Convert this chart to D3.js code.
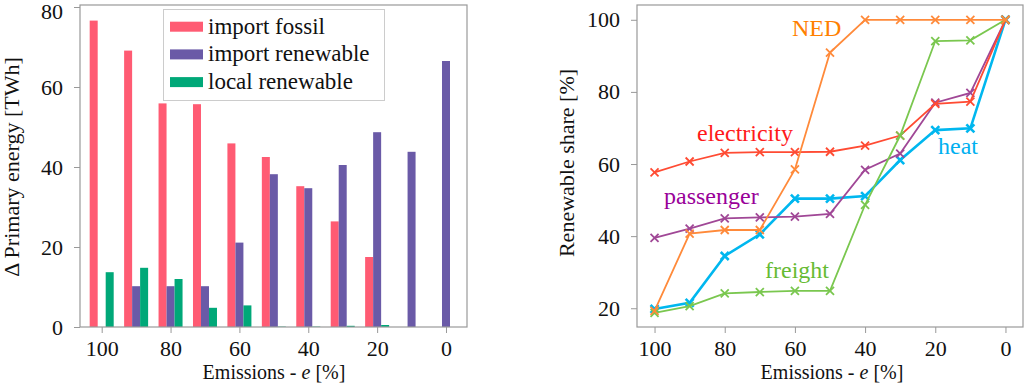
<!DOCTYPE html>
<html>
<head>
<meta charset="utf-8">
<script src="https://cdn.jsdelivr.net/npm/d3@7"></script>
<style>
	body { margin: 0; background: #fff; }
	svg text { font-family: "Liberation Serif", "Tinos", "Nimbus Roman", "Noto Serif", "FreeSerif", "Times New Roman", Times, "DejaVu Serif", serif !important; }
	.axis path { display: none; }
	.axis line { stroke: #999; }
	.axis text { font-size: 22px; fill: #111; }
</style>
</head>
<body>
<div id="chart-area"></div>
<script>
// data
let emissions = [100, 90, 80, 70, 60, 50, 40, 30, 20, 10, 0];

let importFossil    = [76.6, 69.1, 55.9, 55.7, 45.9, 42.5, 35.2, 26.4, 17.5, 0, 0];
let importRenewable = [0, 10.2, 10.2, 10.2, 21.1, 38.2, 34.7, 40.5, 48.7, 43.8, 66.5];
let localRenewable  = [13.7, 14.8, 12.0, 4.8, 5.4, 0.1, 0.1, 0.3, 0.5, 0, 0];
let barNames = ["import fossil", "import renewable", "local renewable"];

let ned         = [19.3, 40.7, 41.7, 41.7, 58.5, 90.9, 100, 100, 100, 100, 100];
let electricity = [57.7, 60.7, 63.1, 63.3, 63.3, 63.4, 65.1, 67.9, 76.7, 77.3, 100];
let heat        = [19.8, 21.5, 34.5, 40.5, 50.4, 50.4, 51.1, 61.1, 69.4, 69.9, 100];
let passenger   = [39.5, 42.1, 44.9, 45.2, 45.4, 46.2, 58.4, 62.9, 77.0, 79.7, 100];
let freight     = [18.7, 20.6, 24.1, 24.5, 24.8, 24.8, 48.7, 67.9, 94.1, 94.3, 100];
let lineNames = ["heat", "passenger", "electricity", "freight", "NED"];

let xTicks     = [100, 80, 60, 40, 20, 0];
let leftTicks  = [0, 20, 40, 60, 80];
let rightTicks = [20, 40, 60, 80, 100];

let serif = "'Liberation Serif', Tinos, 'Nimbus Roman', 'Noto Serif', FreeSerif, 'Times New Roman', Times, 'DejaVu Serif', serif";

// SVG size
let width  = 1024,
	height = 385;

let svg = d3.select("#chart-area")
	.append("svg")
	.attr("width", width)
	.attr("height", height)
	.attr("font-family", serif);

// ---------- left: bar chart ----------
let L = {left: 80, right: 467, top: 5, bottom: 327};

let xLeft = d3.scaleLinear()
	.domain([106.3, -6.1])
	.range([L.left, L.right]);

let yLeft = d3.scaleLinear()
	.domain([0, 80.5])
	.range([L.bottom, L.top]);

let barColor = d3.scaleOrdinal()
	.domain(barNames)
	.range(["#ff5b73", "#6a5aa7", "#00a878"]);

let barData = [importFossil, importRenewable, localRenewable];
let barW = 8;

barData.forEach((series, i) => {
	svg.append("g")
		.selectAll("rect")
		.data(emissions)
		.enter()
		.append("rect")
		.attr("x",      (d, j) => xLeft(d) + (i - 1) * barW - barW / 2)
		.attr("y",      (d, j) => yLeft(series[j]))
		.attr("width",  barW)
		.attr("height", (d, j) => yLeft(0) - yLeft(series[j]))
		.attr("fill",   barColor(barNames[i]));
});

// axes
svg.append("g")
	.attr("class", "axis")
	.attr("transform", "translate(0," + L.bottom + ")")
	.call(d3.axisBottom(xLeft).tickValues(xTicks).tickSize(6).tickPadding(7))
	.attr("font-family", serif);

let leftY = svg.append("g")
	.attr("class", "axis")
	.attr("transform", "translate(" + L.left + ",0)")
	.call(d3.axisLeft(yLeft).tickValues(leftTicks).tickSize(6).tickPadding(11))
	.attr("font-family", serif);

// keep the top label inside the picture
leftY.selectAll("text").filter(d => d === 80).attr("dy", "0.5em");

svg.append("rect")
	.attr("x", L.left)
	.attr("y", L.top)
	.attr("width", L.right - L.left)
	.attr("height", L.bottom - L.top)
	.attr("fill", "none")
	.attr("stroke", "#999")
	.attr("stroke-width", 1.2);

// legend
let legend = svg.append("g");
legend.append("rect")
	.attr("x", 163.5)
	.attr("y", 9.5)
	.attr("width", 221)
	.attr("height", 91)
	.attr("fill", "#fff")
	.attr("stroke", "#ccc");

barNames.forEach((name, i) => {
	let cy = 26.7 + i * 27.7;
	legend.append("rect")
		.attr("x", 170)
		.attr("y", cy - 5)
		.attr("width", 33)
		.attr("height", 10)
		.attr("fill", barColor(name));
	legend.append("text")
		.text(name)
		.attr("x", 208)
		.attr("y", cy + 7)
		.style("font-size", "23px")
		.style("fill", "#111");
});

// axis titles
svg.append("text")
	.text("Δ Primary energy [TWh]")
	.attr("transform", "rotate(-90)")
	.attr("x", -167)
	.attr("y", 19)
	.style("font-size", "22px")
	.style("text-anchor", "middle")
	.style("fill", "#111");

svg.append("text")
	.html("Emissions - <tspan font-style='italic'>e</tspan> [%]")
	.attr("x", 274)
	.attr("y", 379)
	.style("font-size", "20px")
	.style("text-anchor", "middle")
	.style("fill", "#111");

// ---------- right: line chart ----------
let R = {left: 637, right: 1023, top: 5, bottom: 327};

let xRight = d3.scaleLinear()
	.domain([105, -5])
	.range([R.left, R.right]);

let yRight = d3.scaleLinear()
	.domain([14.8, 104.1])
	.range([R.bottom, R.top]);

let lineData = {heat: heat, passenger: passenger, electricity: electricity, freight: freight, NED: ned};

let lineColor = d3.scaleOrdinal()
	.domain(lineNames)
	.range(["#00b7ef", "#a04796", "#ff4b33", "#7ac74f", "#ff8a3a"]);

let lineWidth = {heat: 2.6, passenger: 1.8, electricity: 1.8, freight: 1.8, NED: 1.8};

let line = d3.line()
	.x(d => xRight(d[0]))
	.y(d => yRight(d[1]));

svg.append("g")
	.attr("class", "axis")
	.attr("transform", "translate(0," + R.bottom + ")")
	.call(d3.axisBottom(xRight).tickValues(xTicks).tickSize(6).tickPadding(7))
	.attr("font-family", serif);

svg.append("g")
	.attr("class", "axis")
	.attr("transform", "translate(" + R.left + ",0)")
	.call(d3.axisLeft(yRight).tickValues(rightTicks).tickSize(6).tickPadding(11))
	.attr("font-family", serif);

lineNames.forEach(name => {
	let pts = emissions.map((e, j) => [e, lineData[name][j]]);
	let col = lineColor(name);
	let g = svg.append("g");

	g.append("path")
		.datum(pts)
		.attr("d", line)
		.attr("fill", "none")
		.attr("stroke", col)
		.attr("stroke-width", lineWidth[name]);

	// x markers
	let s = 4;
	g.selectAll("path.mark")
		.data(pts)
		.enter()
		.append("path")
		.attr("class", "mark")
		.attr("d", d => {
			let cx = xRight(d[0]), cy = yRight(d[1]);
			return "M" + (cx - s) + "," + (cy - s) + "L" + (cx + s) + "," + (cy + s) +
				"M" + (cx - s) + "," + (cy + s) + "L" + (cx + s) + "," + (cy - s);
		})
		.attr("stroke", col)
		.attr("stroke-width", lineWidth[name]);
});

svg.append("rect")
	.attr("x", R.left)
	.attr("y", R.top)
	.attr("width", R.right - R.left)
	.attr("height", R.bottom - R.top)
	.attr("fill", "none")
	.attr("stroke", "#999")
	.attr("stroke-width", 1.2);

// series labels
let labels = [
	{name: "NED",         x: 792, y: 36,  color: "#ff8000"},
	{name: "electricity", x: 697, y: 141, color: "#ff1a1a"},
	{name: "heat",        x: 938, y: 154, color: "#00b0f0"},
	{name: "passenger",   x: 664, y: 204, color: "#990099"},
	{name: "freight",     x: 765, y: 278, color: "#66bb33"}
];

svg.selectAll("text.series")
	.data(labels)
	.enter()
	.append("text")
	.attr("class", "series")
	.text(d => d.name)
	.attr("x", d => d.x)
	.attr("y", d => d.y)
	.style("font-size", "24px")
	.style("fill", d => d.color);

svg.append("text")
	.text("Renewable share [%]")
	.attr("transform", "rotate(-90)")
	.attr("x", -163)
	.attr("y", 574)
	.style("font-size", "22px")
	.style("text-anchor", "middle")
	.style("fill", "#111");

svg.append("text")
	.html("Emissions - <tspan font-style='italic'>e</tspan> [%]")
	.attr("x", 832)
	.attr("y", 379)
	.style("font-size", "20px")
	.style("text-anchor", "middle")
	.style("fill", "#111");
</script>
</body>
</html>
